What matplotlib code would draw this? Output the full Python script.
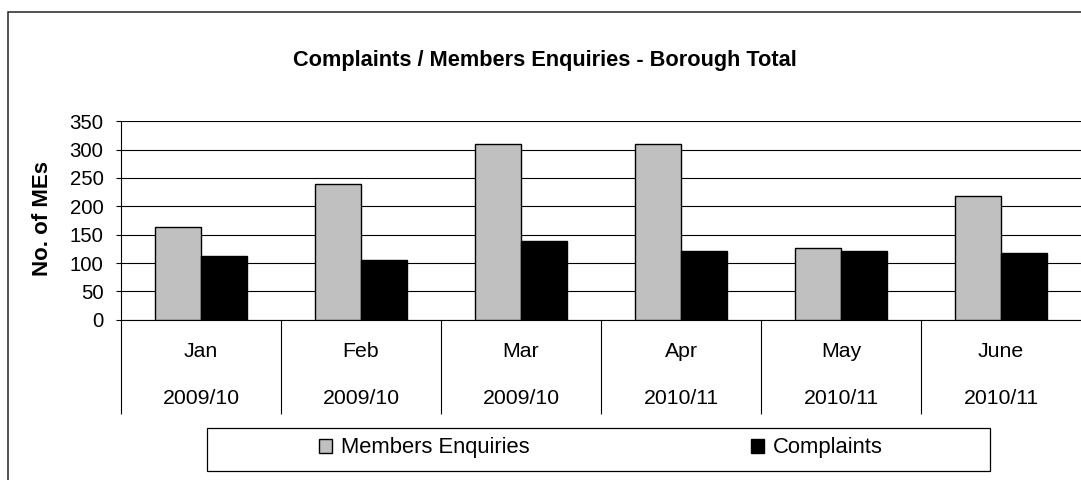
import matplotlib.pyplot as plt
from matplotlib.patches import Rectangle

plt.rcParams['font.family'] = ['Liberation Sans', 'DejaVu Sans']

months = ['Jan', 'Feb', 'Mar', 'Apr', 'May', 'June']
years = ['2009/10', '2009/10', '2009/10', '2010/11', '2010/11', '2010/11']
enquiries = [163, 240, 310, 310, 126, 218]
complaints = [112, 105, 139, 121, 121, 117]

W, H = 1081, 480
fig = plt.figure(figsize=(W / 100, H / 100), dpi=100)

# outer chart frame (only left and top edges fall inside the picture)
fig.patches.append(Rectangle((8 / W, -0.2), 2.0, 1.2 - 11.5 / H,
                             transform=fig.transFigure, fill=False,
                             edgecolor='#222222', linewidth=1.1))

ax = fig.add_axes([121 / W, 160.3 / H, 960 / W, 198.4 / H])

bw = 0.2875
x = list(range(len(months)))
ax.bar([i - bw / 2 for i in x], enquiries, bw, color='#c0c0c0',
       edgecolor='black', linewidth=1.0, label='Members Enquiries', zorder=3)
ax.bar([i + bw / 2 for i in x], complaints, bw, color='black',
       edgecolor='black', linewidth=1.0, label='Complaints', zorder=3)

ax.set_xlim(-0.5, len(months) - 0.5)
ax.set_ylim(0, 350)
ax.set_yticks(range(0, 351, 50))
ax.yaxis.grid(True, color='black', linewidth=0.8)
ax.set_axisbelow(True)
ax.tick_params(axis='y', direction='out', length=3.6, width=0.8,
               pad=9, labelsize=14.7)

# category dividers drawn as long minor ticks below the axis
ax.set_xticks([])
ax.set_xticks([i - 0.5 for i in range(len(months))], minor=True)
ax.tick_params(axis='x', which='minor', direction='out', length=68,
               width=0.8, color='black')
ax.tick_params(axis='x', which='major', length=0)

for s in ['top', 'right']:
    ax.spines[s].set_visible(False)
ax.spines['left'].set_linewidth(0.8)
ax.spines['bottom'].set_linewidth(0.8)

for i, (m, y) in enumerate(zip(months, years)):
    ax.annotate(m, (i, 0), xycoords=('data', 'axes fraction'),
                xytext=(0, -32 * 0.72), textcoords='offset points',
                ha='center', va='center', fontsize=15.3)
    ax.annotate(y, (i, 0), xycoords=('data', 'axes fraction'),
                xytext=(0, -79 * 0.72), textcoords='offset points',
                ha='center', va='center', fontsize=15.3)

fig.text(121 / W - 78 / W, 1 - 218 / H, 'No. of MEs', rotation=90,
         ha='center', va='center', fontsize=16, fontweight='bold')

fig.text(545 / W, 1 - 66 / H, 'Complaints / Members Enquiries - Borough Total',
         ha='center', va='baseline', fontsize=15.7, fontweight='bold')

# legend box
fig.patches.append(Rectangle((207 / W, 1 - 471 / H), 783 / W, 43 / H,
                             transform=fig.transFigure, fill=False,
                             edgecolor='black', linewidth=0.9))
fig.legend(loc='center', bbox_to_anchor=(601 / W, 1 - 448 / H), ncol=2,
           frameon=False, fontsize=15.8, handlelength=0.6, handleheight=0.6,
           handletextpad=0.4, columnspacing=10.1, borderpad=0)

fig.savefig('out.png', dpi=100)
